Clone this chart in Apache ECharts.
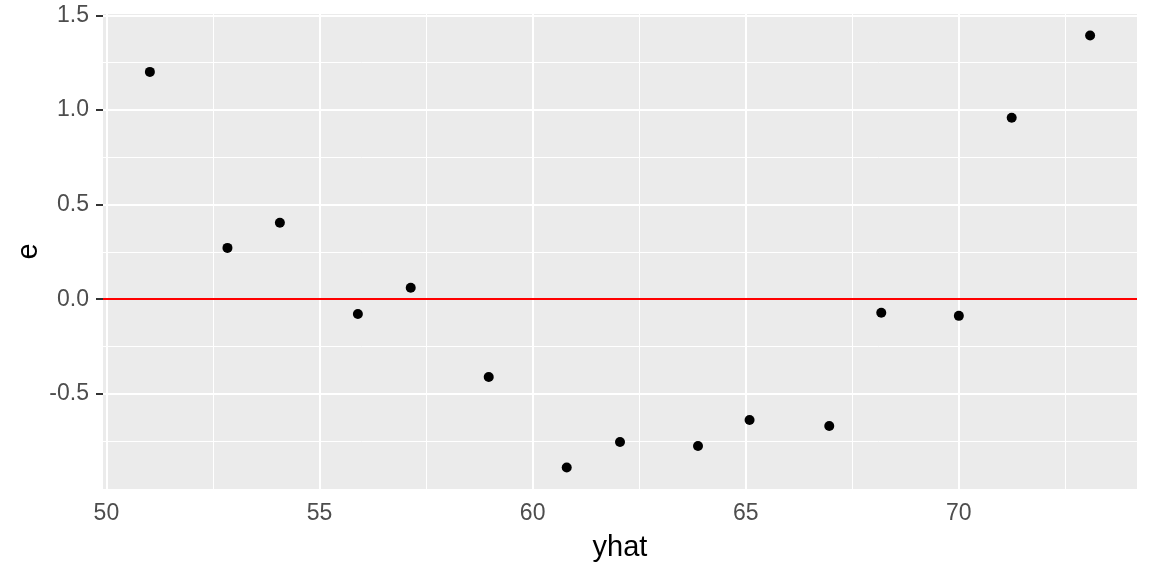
<!DOCTYPE html>
<html>
<head>
<meta charset="utf-8">
<script src="https://cdn.jsdelivr.net/npm/echarts@6/dist/echarts.min.js"></script>
<style>
html,body{margin:0;padding:0;background:#fff;}
#chart{width:1152px;height:576px;}
</style>
</head>
<body>
<div id="chart"></div>
<script>
// Data
const yhat = [51.02, 52.84, 54.07, 55.90, 57.14, 58.97, 60.80, 62.05, 63.88, 65.09, 66.96, 68.18, 70.00, 71.24, 73.08];
const e    = [1.201, 0.271, 0.404, -0.078, 0.060, -0.411, -0.889, -0.755, -0.776, -0.638, -0.670, -0.072, -0.088, 0.959, 1.393];
const xTicks = [50, 55, 60, 65, 70];
const xMinor = [52.5, 57.5, 62.5, 67.5, 72.5];
const yTicks = [-0.5, 0, 0.5, 1.0, 1.5];
const yMinor = [-0.75, -0.25, 0.25, 0.75, 1.25];
const xLimits = [49.92, 74.18];
const yLimits = [-1.003, 1.507];

const FONT = '"Liberation Sans", Arial, sans-serif';
const points = yhat.map((x, i) => [x, e[i]]);

const gridLines = []
  .concat(xMinor.map(v => ({xAxis: v, lineStyle: {color: '#ffffff', width: 1, type: 'solid'}})))
  .concat(yMinor.map(v => ({yAxis: v, lineStyle: {color: '#ffffff', width: 1, type: 'solid'}})))
  .concat(xTicks.map(v => ({xAxis: v, lineStyle: {color: '#ffffff', width: 2, type: 'solid'}})))
  .concat(yTicks.map(v => ({yAxis: v, lineStyle: {color: '#ffffff', width: 2, type: 'solid'}})));

const chart = echarts.init(document.getElementById('chart'), null, {renderer: 'canvas'});
chart.setOption({
  animation: false,
  backgroundColor: '#ffffff',
  grid: {
    left: 103, right: 15, top: 14, bottom: 87,
    show: true, backgroundColor: '#EBEBEB', borderWidth: 0,
    containLabel: false
  },
  xAxis: {
    type: 'value',
    min: xLimits[0], max: xLimits[1],
    name: 'yhat',
    nameLocation: 'middle',
    nameGap: 44,
    nameMoveOverlap: false,
    nameTextStyle: {color: '#000000', fontSize: 29, fontFamily: FONT},
    axisLine: {show: false},
    splitLine: {show: false},
    axisTick: {show: true, customValues: xTicks, length: 7, lineStyle: {color: '#333333', width: 2}},
    axisLabel: {customValues: xTicks, color: '#4D4D4D', fontSize: 23, fontFamily: FONT, margin: 13,
      formatter: v => String(v)}
  },
  yAxis: {
    type: 'value',
    min: yLimits[0], max: yLimits[1],
    name: 'e',
    nameLocation: 'middle',
    nameGap: 60,
    nameMoveOverlap: false,
    nameTextStyle: {color: '#000000', fontSize: 29, fontFamily: FONT},
    axisLine: {show: false},
    splitLine: {show: false},
    axisTick: {show: true, customValues: yTicks, length: 7, lineStyle: {color: '#333333', width: 2}},
    axisLabel: {customValues: yTicks, color: '#4D4D4D', fontSize: 23, fontFamily: FONT, margin: 14,
      formatter: v => Number(v).toFixed(1)}
  },
  series: [
    {
      type: 'line',
      data: [],
      silent: true,
      z: 1,
      markLine: {
        silent: true,
        symbol: ['none', 'none'],
        label: {show: false},
        emphasis: {disabled: true},
        animation: false,
        data: gridLines
      }
    },
    {
      type: 'scatter',
      data: [],
      silent: true,
      z: 2,
      markLine: {
        silent: true,
        symbol: ['none', 'none'],
        label: {show: false},
        emphasis: {disabled: true},
        animation: false,
        data: [{yAxis: 0, lineStyle: {color: '#FF0000', width: 2, type: 'solid', opacity: 1}}]
      }
    },
    {
      type: 'scatter',
      data: points,
      symbol: 'circle',
      symbolSize: 10,
      itemStyle: {color: '#000000', opacity: 1},
      z: 5
    }
  ]
});
</script>
</body>
</html>
